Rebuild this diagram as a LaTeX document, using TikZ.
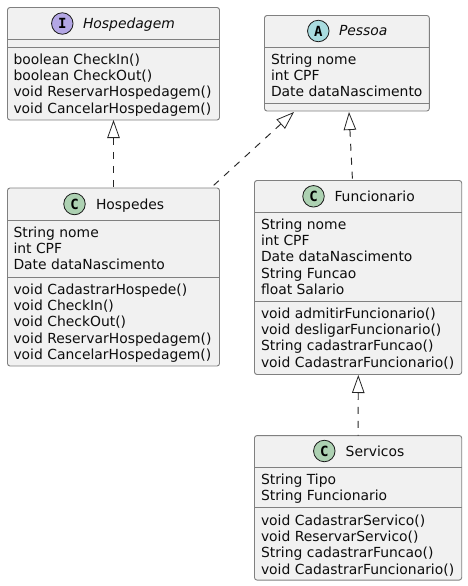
\documentclass[tikz,border=0pt]{standalone}
\usepackage{fontspec}
\setmainfont{DejaVu Sans}
\newfontfamily\spotfont{DejaVu Sans Mono}
\usetikzlibrary{arrows.meta}
\definecolor{boxfill}{HTML}{F1F1F1}
\definecolor{boxline}{HTML}{808080}
\definecolor{spotI}{HTML}{B4A7E5}
\definecolor{spotA}{HTML}{A9DCDF}
\definecolor{spotC}{HTML}{ADD1B2}
\tikzset{
  x=1pt,y=-1pt,
  umlbox/.style={draw=boxline,fill=boxfill,line width=0.9pt,rounded corners=2.5pt,inner sep=0pt,outer sep=0pt},
  sepline/.style={draw=boxline,line width=0.9pt},
  spot/.style={circle,draw=black!90,line width=0.8pt,minimum size=21.5pt,inner sep=0pt,font=\spotfont\bfseries\fontsize{14}{14}\selectfont},
  member/.style={anchor=base west,inner sep=0pt,outer sep=0pt,font=\fontsize{13.9}{16}\selectfont,text=black!95},
  titletext/.style={member},
  abstitle/.style={member,font=\fontsize{13.9}{16}\selectfont\itshape},
  realize/.style={draw=black!85,line width=0.95pt,dash pattern=on 7pt off 7pt,{Triangle[open,fill=white,length=18pt,width=12.5pt,line width=0.8pt,sep=0pt]}-},
}
\begin{document}
\begin{tikzpicture}
\useasboundingbox (0,0) rectangle (467,586);
% Hospedagem
\node[umlbox,minimum width=212pt,minimum height=112.5pt] (hospedagem) at (113.5,63.75) {};
\draw[sepline] (7.5,39.5) -- (219.5,39.5) (7.5,47.5) -- (219.5,47.5);
\node[spot,fill=spotI] (sI) at (62.3,23.5) {I};
\node[abstitle] (tHospedagem) at (83,28.5) {Hospedagem};
\node[member] (h1) at (13.5,64) {boolean CheckIn()};
\node[member] (h2) at (13.5,80.3) {boolean CheckOut()};
\node[member] (h3) at (13.5,96.7) {void ReservarHospedagem()};
\node[member] (h4) at (13.5,113) {void CancelarHospedagem()};
% Pessoa
\node[umlbox,minimum width=164.8pt,minimum height=95.5pt] (pessoa) at (346.9,63.25) {};
\draw[sepline] (264.5,47.3) -- (429.3,47.3) (264.5,103.3) -- (429.3,103.3);
\node[spot,fill=spotA] (sA) at (318.3,31) {A};
\node[abstitle] (tPessoa) at (339,36) {Pessoa};
\node[member] (p1) at (271,64) {String nome};
\node[member] (p2) at (271,80.3) {int CPF};
\node[member] (p3) at (271,96.7) {Date dataNascimento};
% Hospedes
\node[umlbox,minimum width=212pt,minimum height=178pt] (hospedes) at (113.5,277) {};
\draw[sepline] (7.5,220.5) -- (219.5,220.5) (7.5,277.7) -- (219.5,277.7);
\node[spot,fill=spotC] (sH) at (74.5,204) {C};
\node[titletext] (tHospedes) at (96,209) {Hospedes};
\node[member] (o1) at (13.5,237) {String nome};
\node[member] (o2) at (13.5,253.3) {int CPF};
\node[member] (o3) at (13.5,269.7) {Date dataNascimento};
\node[member] (o4) at (13.5,294) {void CadastrarHospede()};
\node[member] (o5) at (13.5,310.3) {void CheckIn()};
\node[member] (o6) at (13.5,326.7) {void CheckOut()};
\node[member] (o7) at (13.5,343) {void ReservarHospedagem()};
\node[member] (o8) at (13.5,359.3) {void CancelarHospedagem()};
% Funcionario
\node[umlbox,minimum width=207.2pt,minimum height=194pt] (funcionario) at (358.1,277.5) {};
\draw[sepline] (254.5,212.5) -- (461.7,212.5) (254.5,301.3) -- (461.7,301.3);
\node[spot,fill=spotC] (sF) at (313.5,196.3) {C};
\node[titletext] (tFuncionario) at (334.5,201) {Funcionario};
\node[member] (f1) at (261,229) {String nome};
\node[member] (f2) at (261,245.3) {int CPF};
\node[member] (f3) at (261,261.7) {Date dataNascimento};
\node[member] (f4) at (261,278) {String Funcao};
\node[member] (f5) at (261,294.3) {float Salario};
\node[member] (f6) at (261,318) {void admitirFuncionario()};
\node[member] (f7) at (261,334.3) {void desligarFuncionario()};
\node[member] (f8) at (261,350.7) {String cadastrarFuncao()};
\node[member] (f9) at (261,367) {void CadastrarFuncionario()};
% Servicos
\node[umlbox,minimum width=207.2pt,minimum height=144.5pt] (servicos) at (358.1,507.8) {};
\draw[sepline] (254.5,467.3) -- (461.7,467.3) (254.5,507.3) -- (461.7,507.3);
\node[spot,fill=spotC] (sS) at (324.3,451) {C};
\node[titletext] (tServicos) at (345.7,456) {Servicos};
\node[member] (s1) at (261,484) {String Tipo};
\node[member] (s2) at (261,500.3) {String Funcionario};
\node[member] (s3) at (261,525) {void CadastrarServico()};
\node[member] (s4) at (261,541.3) {void ReservarServico()};
\node[member] (s5) at (261,557.7) {String cadastrarFuncao()};
\node[member] (s6) at (261,574) {void CadastrarFuncionario()};
% connectors
\coordinate (hTip) at (113.5,120);
\coordinate (pTipH) at (294,112);
\coordinate (pTipF) at (349,112);
\coordinate (fTip) at (358.3,375);
\coordinate (oTop) at (213.5,185.5);
\coordinate (fTop) at (352.5,180.5);
\draw[realize] (hTip) -- (hospedes.north);
\draw[realize] (pTipH) -- (oTop);
\draw[realize] (pTipF) -- (fTop);
\draw[realize] (fTip) -- (servicos.north);
\end{tikzpicture}
\end{document}
